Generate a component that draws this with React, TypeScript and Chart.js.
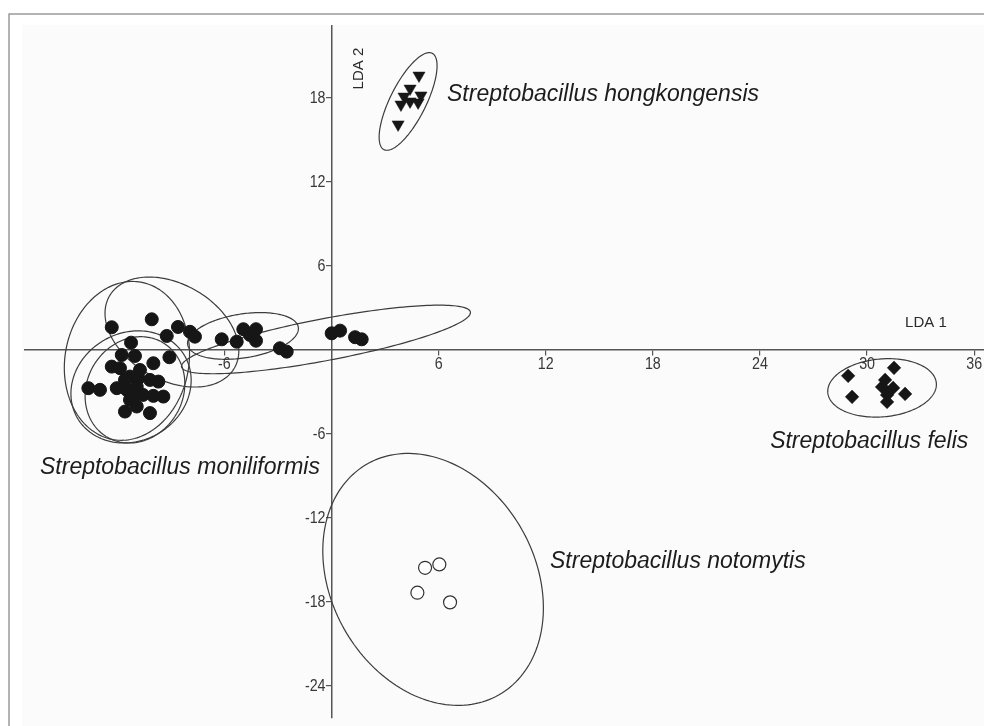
import React, { useEffect, useRef } from "react";
import { Chart, registerables } from "chart.js";

Chart.register(...registerables);

// axis ranges (LDA units)
const X_MIN = -17.17;
const X_MAX = 36.55;
const Y_MIN = -26.29;
const Y_MAX = 23.14;

const xTickValues = [-6, 6, 12, 18, 24, 30, 36];
const yTickValues = [18, 12, 6, -6, -12, -18, -24];

// Streptobacillus moniliformis (filled circles)
const moniliformisX = [
  -12.31, -10.07, -9.23, -8.6, -11.23, -11.75, -11.01, -9.98, -9.08, -12.31, -11.85,
  -11.29, -10.82, -10.17, -9.7, -13.62, -12.97, -12.03, -11.47, -10.91, -11.29, -9.98,
  -9.42, -10.91, -11.57, -10.17, -11.1, -7.93, -7.65, -6.15, -5.31, -4.94, -4.23, -4.57,
  -4.23, -2.89, -2.51, 0.01, 0.48, 1.32, 1.69, -10.73, -11.57, -10.56,
];
const moniliformisY = [
  1.62, 2.19, 1.0, 1.64, 0.52, -0.36, -0.43, -0.95, -0.52, -1.19, -1.3, -1.9, -2.02,
  -2.14, -2.26, -2.73, -2.85, -2.73, -2.85, -2.62, -3.56, -3.28, -3.33, -4.04, -4.4,
  -4.51, -3.33, 1.3, 0.95, 0.76, 0.59, 1.48, 1.48, 1.07, 0.66, 0.12, -0.12, 1.19, 1.38,
  0.91, 0.76, -1.43, -2.14, -3.21,
];
// Streptobacillus hongkongensis (down triangles)
const hongkongensisX = [4.9, 4.4, 4.06, 5.01, 3.89, 4.4, 4.85, 3.73];
const hongkongensisY = [19.6, 18.67, 18.1, 18.18, 17.53, 17.75, 17.68, 16.11];
// Streptobacillus felis (diamonds)
const felisX = [28.94, 31.51, 29.16, 31.01, 30.84, 31.46, 31.12, 32.13, 31.12];
const felisY = [-1.85, -1.28, -3.35, -2.14, -2.64, -2.71, -3.21, -3.14, -3.71];
// Streptobacillus notomytis (open circles)
const notomytisX = [5.24, 6.04, 4.81, 6.64];
const notomytisY = [-15.56, -15.32, -17.34, -18.03];

// confidence ellipses: centre + two conjugate semi-axis vectors, in LDA units
const ellipseCenterX = [-11.46, -8.94, -11.23, -11.01, -4.96, -0.31, 4.29, 30.84, 5.69];
const ellipseCenterY = [-0.78, 1.28, -2.64, -2.85, 1.0, 0.75, 17.75, -2.71, -16.39];
const ellipseUX = [0.78, 3.5, 3.01, 1.54, 3.1, 8.09, 1.35, 3.04, 3.67];
const ellipseUY = [5.62, -2.57, 2.21, 3.39, 0.62, 1.96, 3.44, 0.34, -8.26];
const ellipseVX = [3.42, -1.34, 1.51, 2.33, 0.19, 0.22, 0.9, 0.14, -4.97];
const ellipseVY = [-0.77, -2.97, -3.34, -1.71, -1.55, -1.47, -0.57, -2.06, -3.57];

// group labels
const speciesNames = [
  "Streptobacillus hongkongensis",
  "Streptobacillus felis",
  "Streptobacillus moniliformis",
  "Streptobacillus notomytis",
];
const speciesLabelX = [6.47, 24.57, -16.33, 12.24];
const speciesLabelY = [17.75, -6.98, -8.84, -15.54];

const axisTitleX = "LDA 1";
const axisTitleY = "LDA 2";
const axisTitleXPos = [32.13, 1.62];
const axisTitleYPos = [1.54, 20.1];

const pts = (xs: number[], ys: number[]) => xs.map((x, i) => ({ x, y: ys[i] }));

const TEXT_FONT = "'Liberation Sans', Arial, Helvetica, sans-serif";

const zeroPad = (s: any) => {
  s.paddingLeft = 0;
  s.paddingRight = 0;
  s.paddingTop = 0;
  s.paddingBottom = 0;
};

const decorPlugin = {
  id: "decor",
  beforeDraw(chart: any) {
    const { ctx, chartArea: ca, width, height } = chart;
    ctx.save();
    ctx.fillStyle = "#ffffff";
    ctx.fillRect(0, 0, width, height);
    ctx.fillStyle = "#fbfbfb";
    ctx.fillRect(ca.left - 3, ca.top - 1, width - ca.left + 3, height - ca.top + 1);
    ctx.strokeStyle = "#9a9a9a";
    ctx.lineWidth = 1.5;
    ctx.beginPath();
    ctx.moveTo(9, height);
    ctx.lineTo(9, 14);
    ctx.lineTo(width, 14);
    ctx.stroke();
    ctx.restore();
  },
  beforeDatasetsDraw(chart: any) {
    const { ctx } = chart;
    const xs = chart.scales.x;
    const ys = chart.scales.y;
    ctx.save();
    ctx.strokeStyle = "#3c3c3c";
    ctx.lineWidth = 1.2;
    for (let e = 0; e < ellipseCenterX.length; e++) {
      ctx.beginPath();
      const n = 180;
      for (let k = 0; k <= n; k++) {
        const t = (k / n) * Math.PI * 2;
        const dx = ellipseCenterX[e] + ellipseUX[e] * Math.cos(t) + ellipseVX[e] * Math.sin(t);
        const dy = ellipseCenterY[e] + ellipseUY[e] * Math.cos(t) + ellipseVY[e] * Math.sin(t);
        const px = xs.getPixelForValue(dx);
        const py = ys.getPixelForValue(dy);
        if (k === 0) ctx.moveTo(px, py);
        else ctx.lineTo(px, py);
      }
      ctx.closePath();
      ctx.stroke();
    }
    ctx.restore();
  },
  afterDraw(chart: any) {
    const { ctx } = chart;
    const xs = chart.scales.x;
    const ys = chart.scales.y;
    const x0 = xs.getPixelForValue(0);
    const y0 = ys.getPixelForValue(0);

    // condensed tick labels, positioned from the scales' ticks
    ctx.save();
    ctx.fillStyle = "#383838";
    ctx.font = `17px ${TEXT_FONT}`;
    ctx.textBaseline = "alphabetic";
    const squeeze = 0.84;
    xs.ticks.forEach((t: any) => {
      const label = String(t.value);
      const px = xs.getPixelForValue(t.value);
      ctx.save();
      ctx.translate(px, y0 + 19);
      ctx.scale(squeeze, 1);
      ctx.textAlign = "center";
      ctx.fillText(label, 0, 0);
      ctx.restore();
    });
    ys.ticks.forEach((t: any) => {
      const label = String(t.value);
      const py = ys.getPixelForValue(t.value);
      ctx.save();
      ctx.translate(x0 - 6, py + 5.5);
      ctx.scale(squeeze, 1);
      ctx.textAlign = "right";
      ctx.fillText(label, 0, 0);
      ctx.restore();
    });
    ctx.restore();

    ctx.save();
    ctx.fillStyle = "#1c1c1c";
    ctx.textBaseline = "alphabetic";
    ctx.textAlign = "left";
    ctx.font = `italic 23px ${TEXT_FONT}`;
    speciesNames.forEach((name, i) => {
      ctx.fillText(name, xs.getPixelForValue(speciesLabelX[i]), ys.getPixelForValue(speciesLabelY[i]));
    });
    ctx.fillStyle = "#2a2a2a";
    ctx.font = `15px ${TEXT_FONT}`;
    ctx.fillText(axisTitleX, xs.getPixelForValue(axisTitleXPos[0]), ys.getPixelForValue(axisTitleXPos[1]));
    ctx.translate(xs.getPixelForValue(axisTitleYPos[0]), ys.getPixelForValue(axisTitleYPos[1]));
    ctx.rotate(-Math.PI / 2);
    ctx.textAlign = "center";
    ctx.textBaseline = "middle";
    ctx.fillText(axisTitleY, 0, 0);
    ctx.restore();
  },
};

export default function App() {
  const canvasRef = useRef<HTMLCanvasElement | null>(null);

  useEffect(() => {
    if (!canvasRef.current) return;
    const chart = new Chart(canvasRef.current, {
      type: "scatter",
      data: {
        datasets: [
          {
            label: "S. moniliformis",
            data: pts(moniliformisX, moniliformisY),
            pointStyle: "circle",
            pointRadius: 6.5,
            pointBackgroundColor: "#161616",
            pointBorderColor: "#161616",
            pointBorderWidth: 1,
          },
          {
            label: "S. hongkongensis",
            data: pts(hongkongensisX, hongkongensisY),
            pointStyle: "triangle",
            pointRotation: 180,
            pointRadius: 7,
            pointBackgroundColor: "#161616",
            pointBorderColor: "#161616",
            pointBorderWidth: 0.5,
          },
          {
            label: "S. felis",
            data: pts(felisX, felisY),
            pointStyle: "rectRot",
            pointRadius: 6.8,
            pointBackgroundColor: "#161616",
            pointBorderColor: "#161616",
            pointBorderWidth: 0.5,
          },
          {
            label: "S. notomytis",
            data: pts(notomytisX, notomytisY),
            pointStyle: "circle",
            pointRadius: 6.5,
            pointBackgroundColor: "#ffffff",
            pointBorderColor: "#333333",
            pointBorderWidth: 1.2,
          },
        ],
      },
      options: {
        animation: false,
        responsive: false,
        layout: { autoPadding: false, padding: { left: 25, top: 26, right: 0, bottom: 8 } },
        plugins: { legend: { display: false }, tooltip: { enabled: false } },
        scales: {
          x: {
            type: "linear",
            min: X_MIN,
            max: X_MAX,
            position: { y: 0 } as any,
            afterBuildTicks: (s: any) => {
              s.ticks = xTickValues.map((v) => ({ value: v }));
            },
            afterFit: (s: any) => {
              s.height = 0;
              zeroPad(s);
            },
            grid: {
              display: true,
              drawOnChartArea: false,
              drawTicks: true,
              tickLength: 5,
              color: "#555555",
              lineWidth: 1.2,
            },
            border: { display: true, color: "#555555", width: 1.5 },
            ticks: { display: false, autoSkip: false, maxRotation: 0 },
          },
          y: {
            type: "linear",
            min: Y_MIN,
            max: Y_MAX,
            position: { x: 0 } as any,
            afterBuildTicks: (s: any) => {
              s.ticks = yTickValues.map((v) => ({ value: v }));
            },
            afterFit: (s: any) => {
              s.width = 0;
              zeroPad(s);
            },
            grid: {
              display: true,
              drawOnChartArea: false,
              drawTicks: true,
              tickLength: 5,
              color: "#555555",
              lineWidth: 1.2,
            },
            border: { display: true, color: "#555555", width: 1.5 },
            ticks: { display: false, autoSkip: false },
          },
        },
      },
      plugins: [decorPlugin],
    });
    return () => chart.destroy();
  }, []);

  return (
    <div style={{ position: "absolute", left: 0, top: 0, width: 984, height: 726 }}>
      <canvas ref={canvasRef} width={984} height={726} style={{ display: "block", width: 984, height: 726 }} />
    </div>
  );
}
